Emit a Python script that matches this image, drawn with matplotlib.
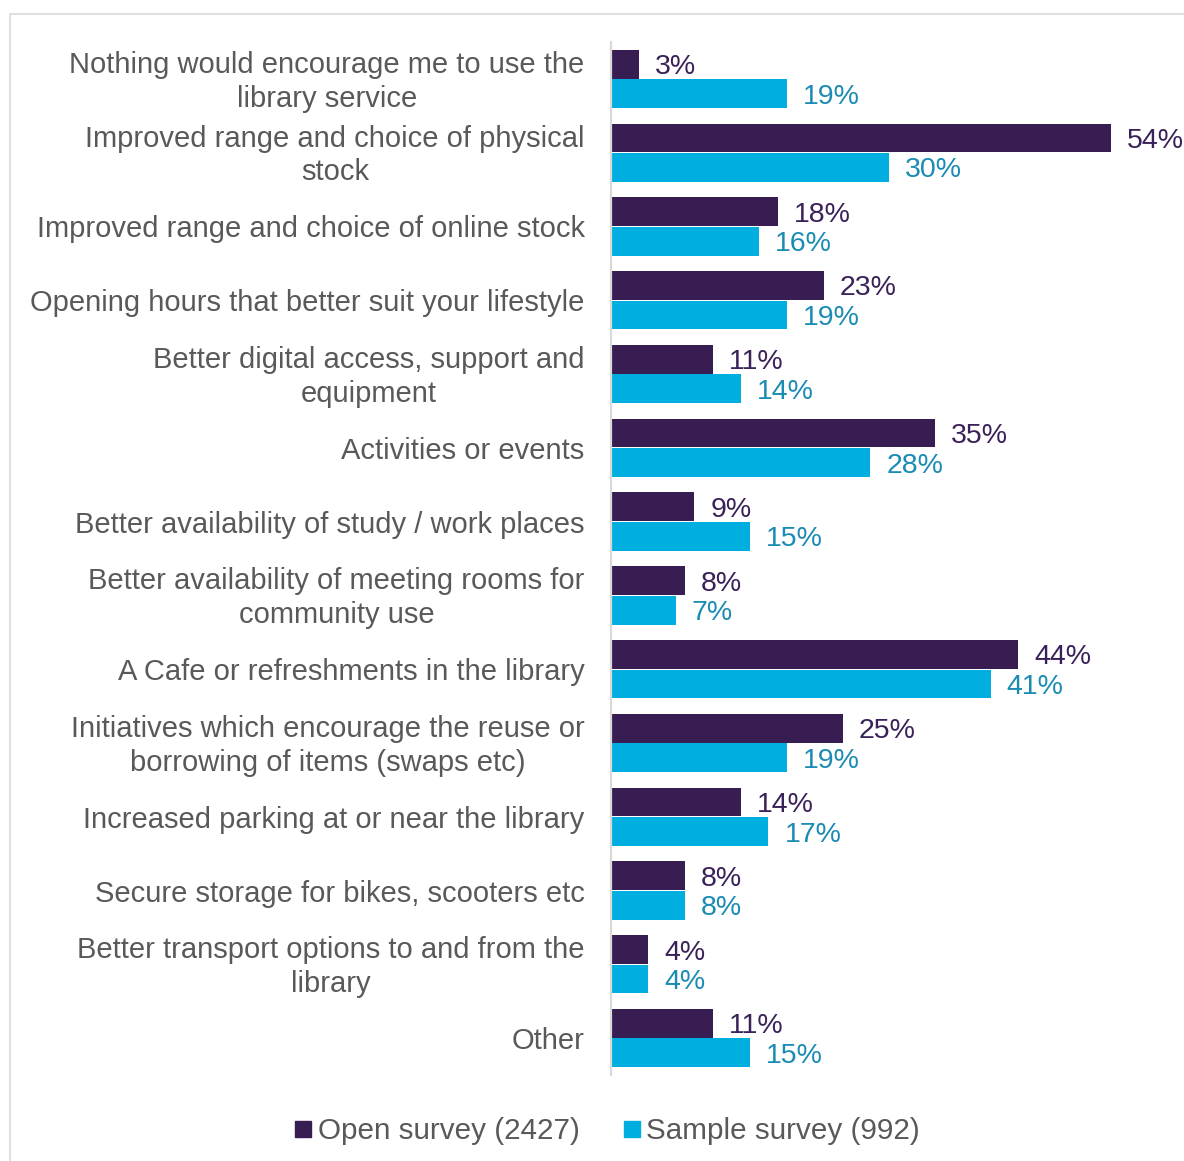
import numpy as np
import matplotlib.pyplot as plt
import matplotlib.transforms as mtransforms
from matplotlib.lines import Line2D
from matplotlib.patches import Rectangle

plt.rcParams['font.family'] = ['Liberation Sans', 'DejaVu Sans']

categories = [
    "Nothing would encourage me to use the\nlibrary service",
    "Improved range and choice of physical\nstock",
    "Improved range and choice of online stock",
    "Opening hours that better suit your lifestyle",
    "Better digital access, support and\nequipment",
    "Activities or events",
    "Better availability of study / work places",
    "Better availability of meeting rooms for\ncommunity use",
    "A Cafe or refreshments in the library",
    "Initiatives which encourage the reuse or\nborrowing of items (swaps etc)",
    "Increased parking at or near the library",
    "Secure storage for bikes, scooters etc",
    "Better transport options to and from the\nlibrary",
    "Other",
]
open_survey = [3, 54, 18, 23, 11, 35, 9, 8, 44, 25, 14, 8, 4, 11]
sample_survey = [19, 30, 16, 19, 14, 28, 15, 7, 41, 19, 17, 8, 4, 15]
series_names = ["Open survey (2427)", "Sample survey (992)"]

purple = '#371D52'
cyan = '#00AEE0'
purple_txt = '#3A2159'
cyan_txt = '#1A8BB3'
grey_txt = '#595959'

W, H = 1184, 1161
fig = plt.figure(figsize=(W / 100, H / 100), dpi=100)

# light frame around the chart area
fig.patches.append(Rectangle((10 / W, -0.1), 1.2, 1 - 14 / H + 0.1, transform=fig.transFigure,
                             fill=False, edgecolor='#D9D9D9', linewidth=1.2))

ax = fig.add_axes([611 / W, 1 - 1075 / H, 1 - 611 / W, (1075 - 42) / H])

y = np.arange(len(categories))
h = 0.39
ax.barh(y - 0.2, open_survey, height=h, color=purple, label=series_names[0])
ax.barh(y + 0.2, sample_survey, height=h, color=cyan, label=series_names[1])

for yi, v in zip(y, open_survey):
    ax.annotate(f"{v}%", (v, yi - 0.2), xytext=(16, -3), textcoords='offset pixels',
                va='center', ha='left', fontsize=20.5, color=purple_txt, annotation_clip=False)
for yi, v in zip(y, sample_survey):
    ax.annotate(f"{v}%", (v, yi + 0.2), xytext=(16, -3), textcoords='offset pixels',
                va='center', ha='left', fontsize=20.5, color=cyan_txt, annotation_clip=False)

ax.set_xlim(0, (W - 611) / 9.26)
ax.set_ylim(len(categories) - 0.5, -0.5)
ax.set_yticks(y)
ax.set_yticklabels(categories, fontsize=21, color=grey_txt, multialignment='center',
                   linespacing=1.26)
ax.tick_params(axis='y', length=0, pad=19)
ax.set_xticks([])

# two-line labels sit a touch high
lift = mtransforms.ScaledTranslation(0, 3 / 100, fig.dpi_scale_trans)
for lab in ax.get_yticklabels():
    if '\n' in lab.get_text():
        lab.set_transform(lab.get_transform() + lift)

for s in ['top', 'right', 'bottom']:
    ax.spines[s].set_visible(False)
ax.spines['left'].set_color('#D9D9D9')
ax.spines['left'].set_linewidth(1.6)

handles = [Line2D([], [], marker='s', linestyle='none', color=purple, markersize=11),
           Line2D([], [], marker='s', linestyle='none', color=cyan, markersize=11)]
leg = fig.legend(handles, series_names, loc='center', bbox_to_anchor=(608 / W, 1 - 1131 / H),
                 ncol=2, frameon=False, fontsize=21.3, handlelength=0.5, handletextpad=0.25,
                 columnspacing=1.5)
for t in leg.get_texts():
    t.set_color(grey_txt)

fig.savefig('out.png', dpi=100)
